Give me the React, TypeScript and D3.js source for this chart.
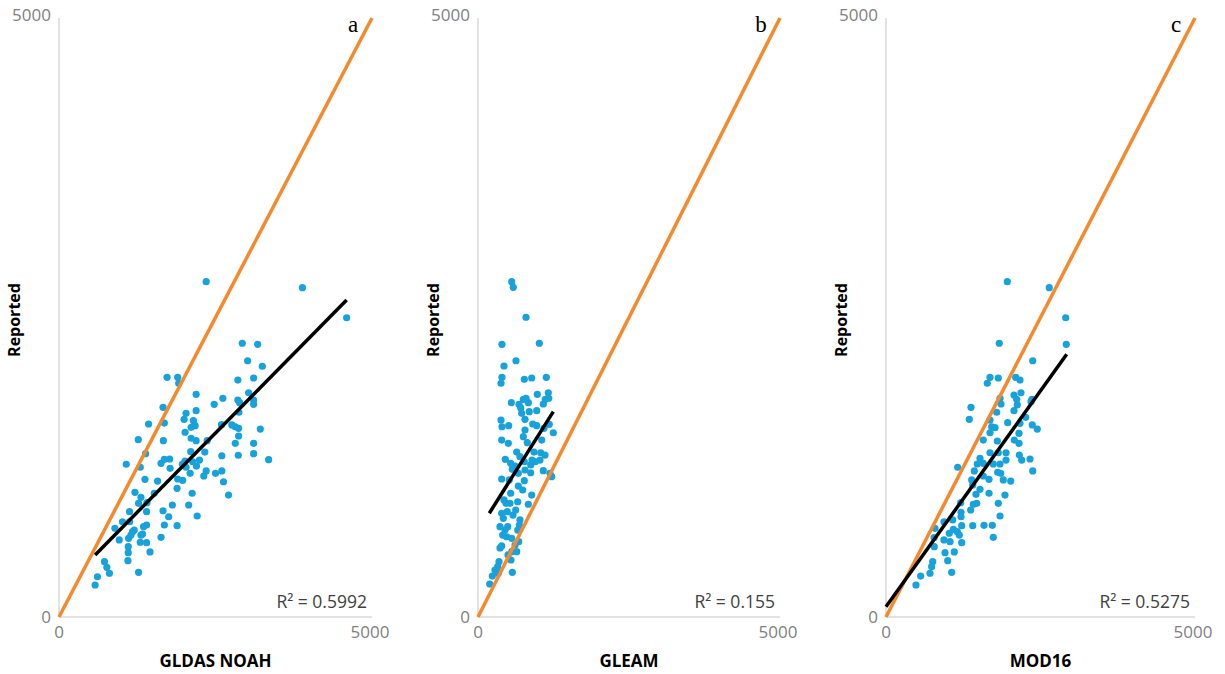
import React from "react";
import * as d3 from "d3";

// ---------- DATA ----------
const panelLetters = ["a", "b", "c"];
const xTitles = ["GLDAS NOAH", "GLEAM", "MOD16"];
const yTitle = "Reported";
const r2Labels = ["R² = 0.5992", "R² = 0.155", "R² = 0.5275"];
const tickValues = [0, 5000];

const gldasPoints: [number, number][] = [
  [2351, 2799], [3889, 2749], [4595, 2498], [2928, 2285], [3173, 2276], [3013, 2139], [3248, 2093],
  [1726, 2001], [1896, 2001], [1912, 1951], [2857, 1978], [3109, 1995], [3029, 1872], [2191, 1859],
  [2617, 1826], [2857, 1811], [2885, 1789], [3109, 1811], [3109, 1775], [2479, 1775], [1662, 1750],
  [2191, 1722], [2030, 1700], [2873, 1709], [1998, 1650], [2147, 1639], [1431, 1611], [1683, 1619],
  [2175, 1597], [2111, 1583], [2596, 1605], [2761, 1603], [2816, 1588], [2869, 1575], [3216, 1569],
  [2869, 1511], [2014, 1542], [1266, 1480], [1667, 1472], [2111, 1492], [2191, 1472], [2367, 1472],
  [2816, 1450], [3109, 1450], [1383, 1363], [2104, 1380], [2329, 1377], [2601, 1346], [2864, 1350],
  [3109, 1363], [1683, 1316], [1768, 1319], [1630, 1283], [2014, 1302], [2136, 1296], [2244, 1310],
  [3349, 1313], [1074, 1275], [1298, 1250], [1774, 1241], [1971, 1277], [2030, 1250], [2196, 1260],
  [2095, 1199], [2313, 1177], [2351, 1219], [2500, 1199], [2601, 1219], [2628, 1129], [1373, 1149],
  [1575, 1135], [1896, 1152], [1976, 1141], [1886, 1074], [1522, 1033], [2127, 1033], [1213, 1041],
  [1309, 999], [2708, 1018], [1271, 949], [1405, 954], [1811, 935], [2072, 935], [1127, 879],
  [1399, 879], [1662, 887], [1752, 837], [2207, 843], [1014, 795], [1127, 795], [893, 740],
  [1202, 726], [1351, 754], [1399, 768], [1683, 768], [1886, 762], [962, 643], [1111, 657],
  [1149, 684], [1175, 712], [1309, 684], [1335, 693], [1298, 624], [1399, 620], [1630, 665],
  [1106, 587], [1106, 537], [1454, 543], [1101, 470], [726, 462], [764, 415], [806, 365],
  [1271, 373], [614, 336], [577, 267],
];

const gleamPoints: [number, number][] = [
  [558, 2799], [584, 2752], [795, 2502], [397, 2276], [1015, 2285], [629, 2139], [430, 2095],
  [397, 2001], [381, 1951], [767, 1984], [889, 1995], [1131, 2001], [1164, 1872], [982, 1859],
  [551, 1789], [679, 1775], [750, 1817], [795, 1826], [833, 1789], [1081, 1778], [1114, 1817],
  [1171, 1826], [707, 1745], [849, 1714], [972, 1722], [723, 1700], [381, 1644], [778, 1650],
  [906, 1611], [397, 1588], [508, 1597], [972, 1597], [1093, 1575], [1180, 1608], [778, 1561],
  [1247, 1538], [750, 1505], [392, 1477], [502, 1450], [816, 1455], [1055, 1477], [641, 1377],
  [1038, 1371], [452, 1316], [695, 1338], [894, 1310], [949, 1296], [1026, 1310], [541, 1283],
  [613, 1260], [767, 1296], [872, 1269], [568, 1233], [1081, 1221], [667, 1199], [872, 1204],
  [1192, 1199], [1220, 1171], [392, 1152], [518, 1144], [767, 1138], [667, 1093], [740, 1060],
  [541, 1033], [889, 1018], [464, 949], [530, 949], [657, 962], [833, 941], [392, 866],
  [485, 879], [624, 893], [419, 824], [364, 754], [492, 754], [684, 768], [657, 726],
  [409, 684], [475, 670], [558, 657], [674, 629], [392, 593], [558, 545], [641, 545],
  [546, 476], [348, 462], [326, 420], [568, 373], [237, 342], [336, 365], [194, 275],
  [281, 392], [430, 977], [579, 851], [447, 726], [695, 810], [778, 1227], [927, 1377],
  [1109, 1352], [364, 576], [613, 601], [497, 518],
];

const mod16Points: [number, number][] = [
  [1963, 2799], [2642, 2749], [2908, 2498], [2917, 2276], [1833, 2285], [2374, 2139], [1683, 2001],
  [1639, 1951], [1817, 1995], [2099, 2001], [2168, 1978], [2071, 1853], [2184, 1872], [1845, 1826],
  [1861, 1778], [2115, 1817], [2124, 1770], [2362, 1817], [2346, 1797], [1375, 1750], [1348, 1650],
  [1791, 1709], [2071, 1722], [2260, 1667], [1683, 1644], [1710, 1588], [1969, 1622], [2168, 1617],
  [1683, 1538], [1764, 1580], [2152, 1533], [2367, 1603], [2448, 1569], [1574, 1477], [1801, 1469],
  [2076, 1477], [2152, 1450], [1683, 1371], [1817, 1371], [1942, 1371], [2157, 1352], [2196, 1310],
  [2330, 1319], [1521, 1325], [1574, 1283], [1736, 1277], [1477, 1277], [1845, 1277], [1942, 1310],
  [1160, 1250], [1429, 1219], [1574, 1177], [1667, 1149], [1807, 1208], [1856, 1199], [1898, 1144],
  [2018, 1135], [2374, 1219], [1387, 1144], [1403, 1102], [1521, 1066], [1456, 1024], [1667, 1033],
  [1925, 1018], [1209, 954], [1413, 941], [1468, 949], [1817, 949], [1214, 874], [1370, 893],
  [1845, 843], [938, 795], [1079, 810], [1214, 837], [1403, 762], [1586, 765], [1720, 765],
  [793, 740], [1024, 699], [1089, 732], [1154, 712], [1225, 762], [1186, 684], [777, 662],
  [938, 643], [1036, 629], [1225, 620], [1736, 665], [781, 587], [955, 537], [1105, 543],
  [756, 462], [739, 420], [998, 470], [712, 365], [1063, 373], [561, 342], [485, 267],
];

// trend line endpoints [x0, y0, x1, y1]
const trendLines: [number, number, number, number][] = [
  [577, 518, 4595, 2646],
  [187, 866, 1247, 1714],
  [0, 86, 2924, 2193],
];

const allPoints = [gldasPoints, gleamPoints, mod16Points];

// ---------- LAYOUT ----------
const W = 1225;
const H = 674;
const panelX: [number, number][] = [
  [59, 372],
  [478, 780],
  [886, 1195],
];
const yTop = 18;
const yBot = 617;

const FONT = "'Open Sans', 'Liberation Sans', Arial, sans-serif";

export default function App() {
  const y = d3.scaleLinear().domain([0, 5000]).range([yBot, yTop]);
  return (
    <svg
      width={W}
      height={H}
      style={{ position: "absolute", left: 0, top: 0, background: "#fff" }}
    >
      <rect x={0} y={0} width={W} height={H} fill="#fff" />
      {panelX.map((rng, i) => {
        const x = d3.scaleLinear().domain([0, 5000]).range(rng);
        const line = d3
          .line<[number, number]>()
          .x((d) => x(d[0]))
          .y((d) => y(d[1]));
        const t = trendLines[i];
        return (
          <g key={i}>
            {/* axes */}
            <line x1={x(0)} x2={x(0)} y1={y(5000)} y2={y(0)} stroke="#d9d9d9" strokeWidth={1.5} />
            <line x1={x(0)} x2={x(5000)} y1={y(0)} y2={y(0)} stroke="#d9d9d9" strokeWidth={1.5} />
            {/* y tick labels */}
            {tickValues.map((v) => (
              <text
                key={"y" + v}
                x={x(0) - 8}
                y={y(v) + (v === 0 ? 1 : -2)}
                textAnchor="end"
                dominantBaseline="middle"
                fontFamily={FONT}
                fontSize={17}
                fill="#7f7f7f"
              >
                {v}
              </text>
            ))}
            {/* x tick labels */}
            {tickValues.map((v) => (
              <text
                key={"x" + v}
                x={x(v) - (v === 0 ? 0 : 2)}
                y={y(0) + 16}
                textAnchor="middle"
                dominantBaseline="middle"
                fontFamily={FONT}
                fontSize={17}
                fill="#7f7f7f"
              >
                {v}
              </text>
            ))}
            {/* points */}
            {allPoints[i].map((p, j) => (
              <circle key={j} cx={x(p[0])} cy={y(p[1])} r={3.6} fill="#17a2dc" />
            ))}
            {/* 1:1 line */}
            <path
              d={line([
                [0, 0],
                [5000, 5000],
              ]) as string}
              stroke="#f5892d"
              strokeWidth={3.5}
              fill="none"
            />
            {/* trend line */}
            <path
              d={line([
                [t[0], t[1]],
                [t[2], t[3]],
              ]) as string}
              stroke="#000"
              strokeWidth={3.5}
              fill="none"
            />
            {/* R2 */}
            <text
              x={x(5000) - 5}
              y={y(0) - 14}
              textAnchor="end"
              dominantBaseline="middle"
              fontFamily={FONT}
              fontSize={17.5}
              fill="#404040"
            >
              {r2Labels[i]}
            </text>
            {/* panel letter */}
            <text
              x={x(5000) - 19}
              y={y(5000) + 14}
              textAnchor="middle"
              fontFamily="'Liberation Serif', 'DejaVu Serif', serif"
              fontSize={23}
              fill="#000"
            >
              {panelLetters[i]}
            </text>
            {/* x title */}
            <text
              x={(x(0) + x(5000)) / 2}
              y={662}
              textAnchor="middle"
              dominantBaseline="middle"
              fontFamily={FONT}
              fontWeight="bold"
              fontSize={17}
              fill="#000"
            >
              {xTitles[i]}
            </text>
            {/* y title */}
            <text
              transform={`translate(${x(0) - 43},${320}) rotate(-90)`}
              textAnchor="middle"
              dominantBaseline="middle"
              fontFamily={FONT}
              fontWeight="bold"
              fontSize={16}
              fill="#000"
            >
              {yTitle}
            </text>
          </g>
        );
      })}
    </svg>
  );
}
